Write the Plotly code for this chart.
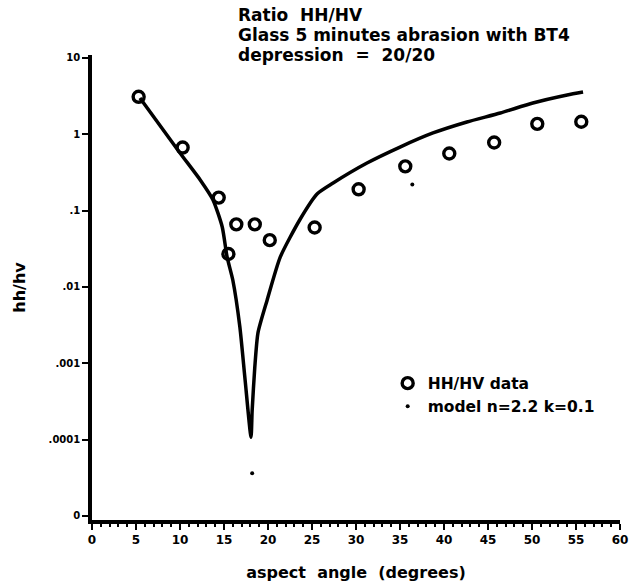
import plotly.graph_objects as go

# ---- data ----
data_angle = [5.3, 10.3, 14.4, 15.5, 16.4, 18.5, 20.2, 25.3, 30.3, 35.6, 40.6, 45.7, 50.6, 55.6]
data_ratio = [3.1, 0.67, 0.148, 0.027, 0.066, 0.066, 0.041, 0.060, 0.19, 0.38, 0.56, 0.78, 1.37, 1.46]

model_angle = [5.45, 10.0, 12.3, 13.75, 14.8, 15.35, 16.0, 16.8, 17.4, 18.07,
               18.2, 18.5, 18.86, 19.9, 21.4, 23.6, 25.6, 27.4, 31.25, 35.0,
               38.75, 42.6, 46.4, 50.1, 54.0, 55.8]
model_ratio = [2.99, 0.569, 0.252, 0.138, 0.061, 0.0247, 0.0123, 0.003, 0.0006, 0.000107,
               0.00024, 0.00089, 0.0025, 0.0067, 0.0247, 0.0753, 0.166, 0.23, 0.42, 0.68,
               1.04, 1.45, 1.90, 2.57, 3.27, 3.58]

model_dot_angle = [18.2, 36.4]
model_dot_ratio = [0.000036, 0.22]

x_ticks = [0, 5, 10, 15, 20, 25, 30, 35, 40, 45, 50, 55, 60]
y_tickvals = [1e-5, 1e-4, 1e-3, 1e-2, 1e-1, 1, 10]
y_ticktext = ["0", ".0001", ".001", ".01", ".1", "1", "10"]

title_lines = ["Ratio  HH/HV", "Glass 5 minutes abrasion with BT4", "depression  =  20/20"]

FONT = "DejaVu Sans"
PLOT_L, PLOT_T, PLOT_W, PLOT_H = 92, 55, 528, 465

fig = go.Figure()
fig.add_trace(go.Scatter(
    x=model_angle, y=model_ratio, mode="lines",
    line=dict(color="black", width=3.5, shape="spline", smoothing=0.6),
    showlegend=False, hoverinfo="skip"))
fig.add_trace(go.Scatter(
    x=data_angle, y=data_ratio, mode="markers", name="HH/HV data",
    marker=dict(symbol="circle-open", size=11, color="black", line=dict(width=3.4, color="black"))))
fig.add_trace(go.Scatter(
    x=model_dot_angle, y=model_dot_ratio, mode="markers", name="model n=2.2 k=0.1",
    marker=dict(symbol="circle", size=4, color="black")))

annots = []
for i, line in enumerate(title_lines):
    cy = 15 + 20 * i
    annots.append(dict(
        x=(236 - PLOT_L) / PLOT_W, y=1 + (PLOT_T - cy) / PLOT_H, xref="paper", yref="paper",
        text=line, showarrow=False, align="left", xanchor="left", yanchor="middle",
        font=dict(size=17, family=FONT, weight="bold")))

fig.update_layout(
    width=639, height=588,
    margin=dict(l=PLOT_L, r=639 - PLOT_L - PLOT_W, t=PLOT_T, b=588 - PLOT_T - PLOT_H),
    paper_bgcolor="white", plot_bgcolor="white",
    font=dict(family=FONT, color="black", weight="bold"),
    showlegend=True,
    legend=dict(x=0.56, y=0.33, xanchor="left", yanchor="top",
                bgcolor="rgba(0,0,0,0)", font=dict(size=15.5, family=FONT, weight="bold"),
                itemwidth=30, tracegroupgap=0),
    annotations=annots,
)

fig.update_xaxes(
    range=[0, 60], tickvals=x_ticks, ticktext=[str(t) for t in x_ticks], automargin=False,
    showgrid=False, zeroline=False, showline=True, linecolor="black", linewidth=3.5,
    ticks="outside", ticklen=6, tickwidth=2, tickcolor="black",
    minor=dict(dtick=1, ticks="outside", ticklen=3, tickwidth=1.5, tickcolor="black"),
    tickfont=dict(size=12, family=FONT, weight="bold"),
    title=dict(text="aspect  angle  (degrees)", font=dict(size=16, family=FONT, weight="bold"), standoff=22),
)
fig.update_yaxes(
    type="log", range=[-5.055, 1.039], tickvals=y_tickvals, ticktext=y_ticktext, automargin=False,
    showgrid=False, zeroline=False, showline=True, linecolor="black", linewidth=3.5,
    ticks="outside", ticklen=6, tickwidth=2, tickcolor="black",
    tickfont=dict(size=10, family=FONT, weight="bold"),
    title=dict(text="hh/hv", font=dict(size=16, family=FONT, weight="bold"), standoff=20),
)

fig.write_html("out.html")
